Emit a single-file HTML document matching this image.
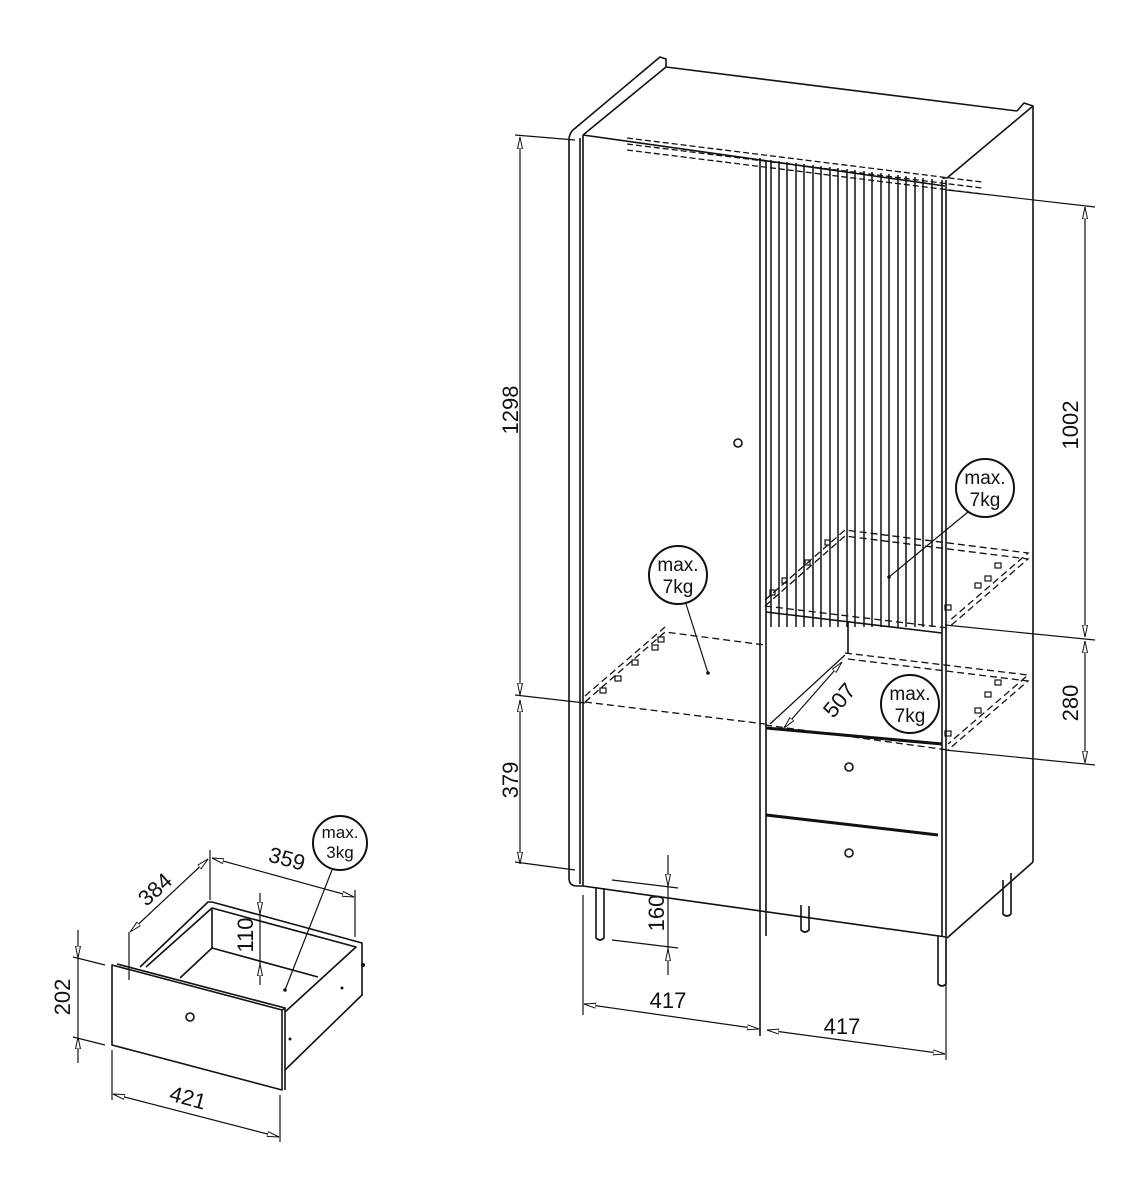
<!DOCTYPE html>
<html><head><meta charset="utf-8"><style>
html,body{margin:0;padding:0;background:#fff}
svg{display:block}
text{font-family:"Liberation Sans",sans-serif;fill:#111}
</style></head><body>
<svg width="1143" height="1200" viewBox="0 0 1143 1200" xmlns="http://www.w3.org/2000/svg">
<defs>
<marker id="a" viewBox="0 0 12 6" refX="12" refY="3" markerWidth="12" markerHeight="6" orient="auto-start-reverse" markerUnits="userSpaceOnUse">
<path d="M0,0.5 L12,3 L0,5.5 Z" fill="#fff" stroke="#111" stroke-width="1"/>
</marker>
</defs>
<g fill="none" stroke="#111" stroke-width="1.6" stroke-linejoin="round">
<path d="M573,130 L660,57 L666,59 L666,67 L583,135"/>
<path d="M573,130 Q569,134 569,140 L569,878 Q569,886 577,886 L583,886"/>
<line x1="580" y1="138" x2="580" y2="884"/>
<line x1="583" y1="135" x2="583" y2="886"/>
<line x1="666" y1="67" x2="1017" y2="111"/>
<path d="M1017,111 L1024,103 L1033,106 L947,178 L942,178"/>
<line x1="1033" y1="106" x2="1033" y2="862"/>
<path d="M1033,862 L947,938"/>
<line x1="583" y1="135" x2="945" y2="186"/>
<line x1="942" y1="180" x2="942" y2="936"/>
<line x1="946" y1="180" x2="946" y2="938"/>
<line x1="760" y1="158" x2="760" y2="1036"/>
<line x1="766" y1="160" x2="766" y2="936"/>
<line x1="583" y1="886" x2="946" y2="937"/>
<circle cx="738" cy="443" r="4"/>
<line x1="766" y1="612" x2="942" y2="633"/>
<line x1="848" y1="622" x2="848" y2="654"/>
<line x1="766" y1="728" x2="942" y2="744" stroke-width="3"/>
<line x1="766" y1="815" x2="938" y2="835" stroke-width="3"/>
<circle cx="849" cy="767" r="4"/>
<circle cx="849" cy="853" r="4"/>
<path d="M596,887 L596,938 Q600,942 604,938 L604,888"/>
<path d="M801,905 L801,930 Q805,934 809,930 L809,906"/>
<path d="M938,936 L938,984 Q942,988 946,984 L946,938"/>
<path d="M1003,880 L1003,914 Q1007,918 1011,914 L1011,873"/>
</g>
<g stroke="#111" stroke-width="1.5">
<line x1="771" y1="160" x2="771" y2="627"/><line x1="779" y1="161" x2="779" y2="627"/>
<line x1="787" y1="162" x2="787" y2="627"/><line x1="796" y1="163" x2="796" y2="627"/>
<line x1="804" y1="164" x2="804" y2="627"/><line x1="813" y1="165" x2="813" y2="627"/>
<line x1="821" y1="166" x2="821" y2="627"/><line x1="830" y1="167" x2="830" y2="627"/>
<line x1="838" y1="168" x2="838" y2="627"/><line x1="847" y1="169" x2="847" y2="627"/>
<line x1="855" y1="170" x2="855" y2="627"/><line x1="864" y1="171" x2="864" y2="627"/>
<line x1="872" y1="172" x2="872" y2="627"/><line x1="881" y1="173" x2="881" y2="627"/>
<line x1="889" y1="174" x2="889" y2="627"/><line x1="898" y1="175" x2="898" y2="627"/>
<line x1="906" y1="176" x2="906" y2="627"/><line x1="915" y1="177" x2="915" y2="627"/>
<line x1="923" y1="178" x2="923" y2="627"/><line x1="932" y1="179" x2="932" y2="627"/>
</g>
<g fill="none" stroke="#111" stroke-width="1.3" stroke-dasharray="6,3">
<line x1="627" y1="138" x2="982" y2="182"/>
<line x1="627" y1="144" x2="982" y2="188"/>
<line x1="627" y1="150" x2="982" y2="194"/>
</g>
<g fill="none" stroke="#111" stroke-width="1.3" stroke-dasharray="7,4">
<path d="M585,702 L665,632 L765,645"/>
<path d="M585,696 L665,627"/>
<line x1="585" y1="702" x2="765" y2="724"/>
<path d="M765,600 L845,530 L1028,553 L948,622"/>
<path d="M765,606 L845,536 L1028,559 L948,628"/>
<line x1="765" y1="606" x2="948" y2="628"/>
<path d="M845,653 L1028,675 L948,744"/>
<path d="M848,659 L1028,681 L948,750"/>
<line x1="765" y1="725" x2="948" y2="750"/>
</g>
<g fill="none" stroke="#111" stroke-width="1.2">
<rect x="600" y="688" width="6" height="5"/><rect x="615" y="676" width="6" height="5"/>
<rect x="632" y="660" width="6" height="5"/><rect x="652" y="645" width="6" height="5"/>
<rect x="658" y="637" width="6" height="5"/>
<rect x="985" y="576" width="6" height="5"/><rect x="995" y="563" width="6" height="5"/>
<rect x="945" y="605" width="6" height="5"/><rect x="975" y="583" width="6" height="5"/>
<rect x="985" y="692" width="6" height="5"/><rect x="995" y="680" width="6" height="5"/>
<rect x="945" y="731" width="6" height="5"/><rect x="975" y="708" width="6" height="5"/>
<rect x="770" y="590" width="5" height="5"/><rect x="782" y="578" width="5" height="5"/>
<rect x="805" y="560" width="5" height="5"/><rect x="825" y="540" width="5" height="5"/>
</g>
<g fill="none" stroke="#111" stroke-width="1.2">
<line x1="515" y1="135" x2="575" y2="140"/>
<line x1="515" y1="695" x2="585" y2="703"/>
<line x1="515" y1="862" x2="575" y2="870"/>
<line x1="520" y1="137" x2="520" y2="695" marker-start="url(#a)" marker-end="url(#a)"/>
<line x1="520" y1="700" x2="520" y2="864" marker-start="url(#a)" marker-end="url(#a)"/>
<line x1="947" y1="190" x2="1095" y2="207"/>
<line x1="945" y1="625" x2="1095" y2="640"/>
<line x1="945" y1="750" x2="1095" y2="765"/>
<line x1="1085" y1="207" x2="1085" y2="637" marker-start="url(#a)" marker-end="url(#a)"/>
<line x1="1085" y1="641" x2="1085" y2="763" marker-start="url(#a)" marker-end="url(#a)"/>
<line x1="612" y1="880" x2="678" y2="888"/>
<line x1="612" y1="940" x2="678" y2="948"/>
<line x1="668" y1="855" x2="668" y2="886" marker-end="url(#a)"/>
<line x1="668" y1="975" x2="668" y2="949" marker-end="url(#a)"/>
<line x1="668" y1="886" x2="668" y2="949"/>
<line x1="583" y1="895" x2="583" y2="1015"/>
<line x1="946" y1="940" x2="946" y2="1060"/>
<line x1="584" y1="1004" x2="759" y2="1029" marker-start="url(#a)" marker-end="url(#a)"/>
<line x1="767" y1="1030" x2="945" y2="1054" marker-start="url(#a)" marker-end="url(#a)"/>
<line x1="784" y1="728" x2="842" y2="662" marker-start="url(#a)" marker-end="url(#a)"/>
<line x1="770" y1="724" x2="845" y2="655"/>
<line x1="968" y1="512" x2="889" y2="577"/>
<line x1="686" y1="604" x2="708" y2="673"/>
</g>
<circle cx="889" cy="577" r="1.8" fill="#111"/>
<circle cx="708" cy="673" r="1.8" fill="#111"/>
<g fill="#fff" stroke="#111" stroke-width="2">
<circle cx="985" cy="488" r="29"/>
<circle cx="678" cy="575" r="29"/>
<circle cx="910" cy="704" r="29"/>
</g>
<g font-size="19" text-anchor="middle">
<text x="985" y="484">max.</text><text x="985" y="506">7kg</text>
<text x="678" y="571">max.</text><text x="678" y="593">7kg</text>
<text x="910" y="700">max.</text><text x="910" y="722">7kg</text>
</g>
<g font-size="22" text-anchor="middle">
<text transform="translate(518,410) rotate(-90)">1298</text>
<text transform="translate(518,780) rotate(-90)">379</text>
<text transform="translate(1078,425) rotate(-90)">1002</text>
<text transform="translate(1078,703) rotate(-90)">280</text>
<text transform="translate(664,913) rotate(-90)">160</text>
<text transform="translate(845,705) rotate(-50)">507</text>
<text x="668" y="1008">417</text>
<text x="842" y="1034">417</text>
</g>
<g fill="none" stroke="#111" stroke-width="1.6" stroke-linejoin="round">
<path d="M112,965 L282,1010 L282,1090 L112,1045 Z"/>
<line x1="117" y1="964" x2="285" y2="1008"/>
<path d="M282,1010 L285,1008 L285,1090"/>
<path d="M140,967 L208,902 L212,902 L362,943 L362,995 L285,1070"/>
<path d="M146,967 L212,908 L356,947 L285,1012"/>
<line x1="212" y1="908" x2="212" y2="948"/>
<line x1="212" y1="948" x2="318" y2="977"/>
<line x1="212" y1="948" x2="180" y2="978"/>
<circle cx="190" cy="1017" r="4"/>
</g>
<circle cx="342" cy="988" r="1.5" fill="#111"/>
<circle cx="290" cy="1039" r="1.5" fill="#111"/>
<circle cx="363" cy="965" r="2" fill="#111"/>
<g fill="none" stroke="#111" stroke-width="1.2">
<line x1="73" y1="957" x2="105" y2="965"/>
<line x1="73" y1="1037" x2="105" y2="1045"/>
<line x1="78" y1="930" x2="78" y2="958" marker-end="url(#a)"/>
<line x1="78" y1="1063" x2="78" y2="1037" marker-end="url(#a)"/>
<line x1="78" y1="958" x2="78" y2="1037"/>
<line x1="112" y1="1050" x2="112" y2="1100"/>
<line x1="280" y1="1095" x2="280" y2="1142"/>
<line x1="113" y1="1094" x2="279" y2="1137" marker-start="url(#a)" marker-end="url(#a)"/>
<line x1="129" y1="932" x2="129" y2="980"/>
<line x1="210" y1="850" x2="210" y2="900"/>
<line x1="355" y1="890" x2="355" y2="937"/>
<line x1="130" y1="932" x2="208" y2="859" marker-start="url(#a)" marker-end="url(#a)"/>
<line x1="212" y1="858" x2="354" y2="897" marker-start="url(#a)" marker-end="url(#a)"/>
<line x1="260" y1="893" x2="260" y2="914" marker-end="url(#a)"/>
<line x1="260" y1="914" x2="260" y2="964"/>
<line x1="260" y1="985" x2="260" y2="964" marker-end="url(#a)"/>
<line x1="332" y1="870" x2="285" y2="990"/>
</g>
<circle cx="285" cy="990" r="1.8" fill="#111"/>
<circle cx="340" cy="843" r="27" fill="#fff" stroke="#111" stroke-width="2"/>
<g font-size="17" text-anchor="middle">
<text x="340" y="838">max.</text><text x="340" y="858">3kg</text>
</g>
<g font-size="22" text-anchor="middle">
<text transform="translate(70,997) rotate(-90)">202</text>
<text transform="translate(253,935) rotate(-90)">110</text>
<text transform="translate(160,895) rotate(-42)">384</text>
<text transform="translate(285,866) rotate(15)">359</text>
<text transform="translate(186,1105) rotate(15)">421</text>
</g>
</svg>
</body></html>
